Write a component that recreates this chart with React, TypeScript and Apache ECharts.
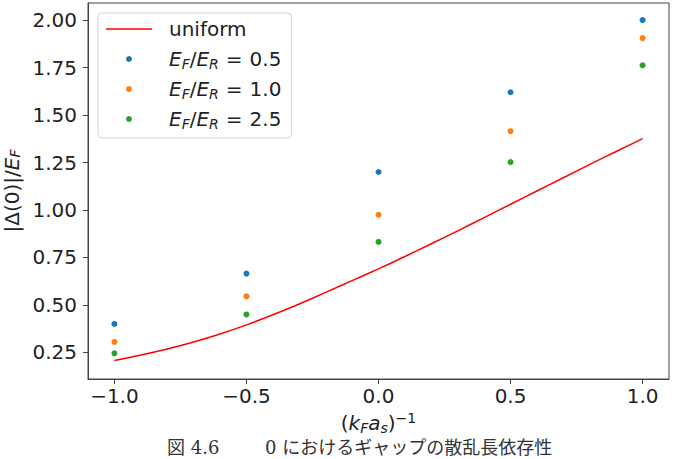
import React, { useEffect, useRef } from "react";
import * as echarts from "echarts";

// (k_F a_s)^{-1} values where the gap was evaluated
const couplings = [-1.0, -0.5, 0.0, 0.5, 1.0];

// |Δ(0)|/E_F for each E_F/E_R ratio
const gapRatio05 = [0.40, 0.665, 1.20, 1.62, 2.0];
const gapRatio10 = [0.305, 0.545, 0.975, 1.415, 1.905];
const gapRatio25 = [0.245, 0.45, 0.832, 1.252, 1.762];

// uniform (mean-field) curve
const uniformX = [-1.0, -0.9, -0.8, -0.7, -0.6, -0.5, -0.4, -0.3, -0.2, -0.1, 0.0, 0.1, 0.2, 0.3, 0.4, 0.5, 0.6, 0.7, 0.8, 0.9, 1.0];
const uniformY = [0.208, 0.236, 0.268, 0.305, 0.347, 0.395, 0.448, 0.505, 0.566, 0.628, 0.69, 0.755, 0.822, 0.89, 0.96, 1.03, 1.1, 1.17, 1.24, 1.308, 1.376];

// axis ticks
const xTicks = [-1.0, -0.5, 0.0, 0.5, 1.0];
const yTicks = [0.25, 0.5, 0.75, 1.0, 1.25, 1.5, 1.75, 2.0];

const seriesNames = ["uniform", "E_F/E_R = 0.5", "E_F/E_R = 1.0", "E_F/E_R = 2.5"];
const colors = ["#ff0000", "#1f77b4", "#ff7f0e", "#2ca02c"];

const FONT = "DejaVu Sans";
const TEXT = "#222222";
const FS = 20;

const mathRich = {
  n: { fontFamily: FONT, fontSize: FS, color: TEXT, lineHeight: 24 },
  nl: { fontFamily: FONT, fontSize: FS, color: TEXT, lineHeight: 24, padding: [0, 0, 0, 12] },
  eq: { fontFamily: FONT, fontSize: FS, color: TEXT, lineHeight: 24, padding: [0, 7, 0, 7] },
  i: { fontFamily: FONT, fontSize: FS, fontStyle: "italic", color: TEXT, lineHeight: 24 },
  il: { fontFamily: FONT, fontSize: FS, fontStyle: "italic", color: TEXT, lineHeight: 24, padding: [0, 0, 0, 12] },
  sub: { fontFamily: FONT, fontSize: 14, fontStyle: "italic", color: TEXT, lineHeight: 12, verticalAlign: "bottom" },
  sup: { fontFamily: FONT, fontSize: 14, color: TEXT, lineHeight: 12, verticalAlign: "top" },
};

// tighter line box for the rotated y-axis name
const yNameRich = {
  n: { fontFamily: FONT, fontSize: FS, color: TEXT, lineHeight: 20 },
  i: { fontFamily: FONT, fontSize: FS, fontStyle: "italic", color: TEXT, lineHeight: 20 },
  sub: { fontFamily: FONT, fontSize: 14, fontStyle: "italic", color: TEXT, lineHeight: 10, verticalAlign: "bottom" },
};

function legendLabel(name: string): string {
  if (name === "uniform") return "{nl|uniform}";
  const value = name.split("= ")[1];
  return `{il|E}{sub|F}{n|/}{i|E}{sub|R}{eq|=}{n|${value}}`;
}

const fmtMinus = (s: string) => s.replace("-", "\u2212");

export default function App() {
  const ref = useRef<HTMLDivElement>(null);

  useEffect(() => {
    if (!ref.current) return;
    const chart = echarts.init(ref.current, null, { renderer: "svg" });

    const scatter = (name: string, values: number[], color: string) => ({
      name,
      type: "scatter",
      data: couplings.map((x, k) => [x, values[k]]),
      symbol: "circle",
      symbolSize: 6,
      itemStyle: { color, opacity: 1 },
      z: 3,
    });

    chart.setOption({
      animation: false,
      backgroundColor: "#ffffff",
      grid: {
        left: 88,
        right: 7,
        top: 3,
        bottom: 80,
        show: true,
        borderColor: "#444",
        borderWidth: 1,
        backgroundColor: "transparent",
        containLabel: false,
        outerBoundsMode: "none",
      },
      legend: {
        orient: "vertical",
        left: 98,
        top: 13,
        padding: [4, 10, 7, 8],
        itemGap: 6,
        itemWidth: 46,
        itemHeight: 6,
        backgroundColor: "#ffffff",
        borderColor: "#d4d4d4",
        borderWidth: 1,
        borderRadius: 4,
        data: [
          { name: seriesNames[0], icon: "path://M0 0H46V1.6H0Z" },
          { name: seriesNames[1], icon: "circle" },
          { name: seriesNames[2], icon: "circle" },
          { name: seriesNames[3], icon: "circle" },
        ],
        formatter: legendLabel,
        textStyle: { fontFamily: FONT, fontSize: FS, color: TEXT, lineHeight: 24, rich: mathRich },
      },
      xAxis: {
        type: "value",
        min: -1.1,
        max: 1.1,
        splitLine: { show: false },
        axisLine: { show: true, onZero: false, lineStyle: { color: "#444", width: 1 } },
        axisTick: { show: true, length: 5, lineStyle: { color: "#444" }, customValues: xTicks },
        axisLabel: {
          customValues: xTicks,
          formatter: (v: number) => fmtMinus(v.toFixed(1)),
          fontFamily: FONT,
          fontSize: FS,
          color: TEXT,
          margin: 7,
        },
        name: "{n|(}{i|k}{sub|F}{i|a}{sub|s}{n|)}{sup|\u22121}",
        nameLocation: "middle",
        nameGap: 30,
        nameTextStyle: { rich: mathRich },
      },
      yAxis: {
        type: "value",
        min: 0.11,
        max: 2.09,
        splitLine: { show: false },
        axisLine: { show: true, onZero: false, lineStyle: { color: "#444", width: 1 } },
        axisTick: { show: true, length: 5, lineStyle: { color: "#444" }, customValues: yTicks },
        axisLabel: {
          customValues: yTicks,
          formatter: (v: number) => v.toFixed(2),
          fontFamily: FONT,
          fontSize: FS,
          color: TEXT,
          margin: 11,
        },
        name: "{n|\u007CΔ(0)\u007C/}{i|E}{sub|F}",
        nameLocation: "middle",
        nameRotate: 90,
        nameGap: 56,
        nameTextStyle: { rich: yNameRich },
      },
      series: [
        {
          name: seriesNames[0],
          type: "line",
          data: uniformX.map((x, k) => [x, uniformY[k]]),
          symbol: "none",
          smooth: 0.2,
          lineStyle: { color: colors[0], width: 1.5 },
          itemStyle: { color: colors[0] },
          z: 2,
        },
        scatter(seriesNames[1], gapRatio05, colors[1]),
        scatter(seriesNames[2], gapRatio10, colors[2]),
        scatter(seriesNames[3], gapRatio25, colors[3]),
      ],
      graphic: [
        {
          type: "text",
          left: 167,
          top: 438,
          style: {
            text: "図 4.6",
            fontFamily: "DejaVu Serif, Noto Sans CJK JP",
            fontSize: 18,
            fill: "#333",
          },
        },
        {
          type: "text",
          left: 265,
          top: 438,
          style: {
            text: "0 におけるギャップの散乱長依存性",
            fontFamily: "DejaVu Serif, Noto Sans CJK JP",
            fontSize: 18,
            fill: "#333",
          },
        },
      ],
    });

    return () => chart.dispose();
  }, []);

  return (
    <div
      ref={ref}
      style={{ position: "absolute", left: 0, top: 0, width: 676, height: 459 }}
    />
  );
}
